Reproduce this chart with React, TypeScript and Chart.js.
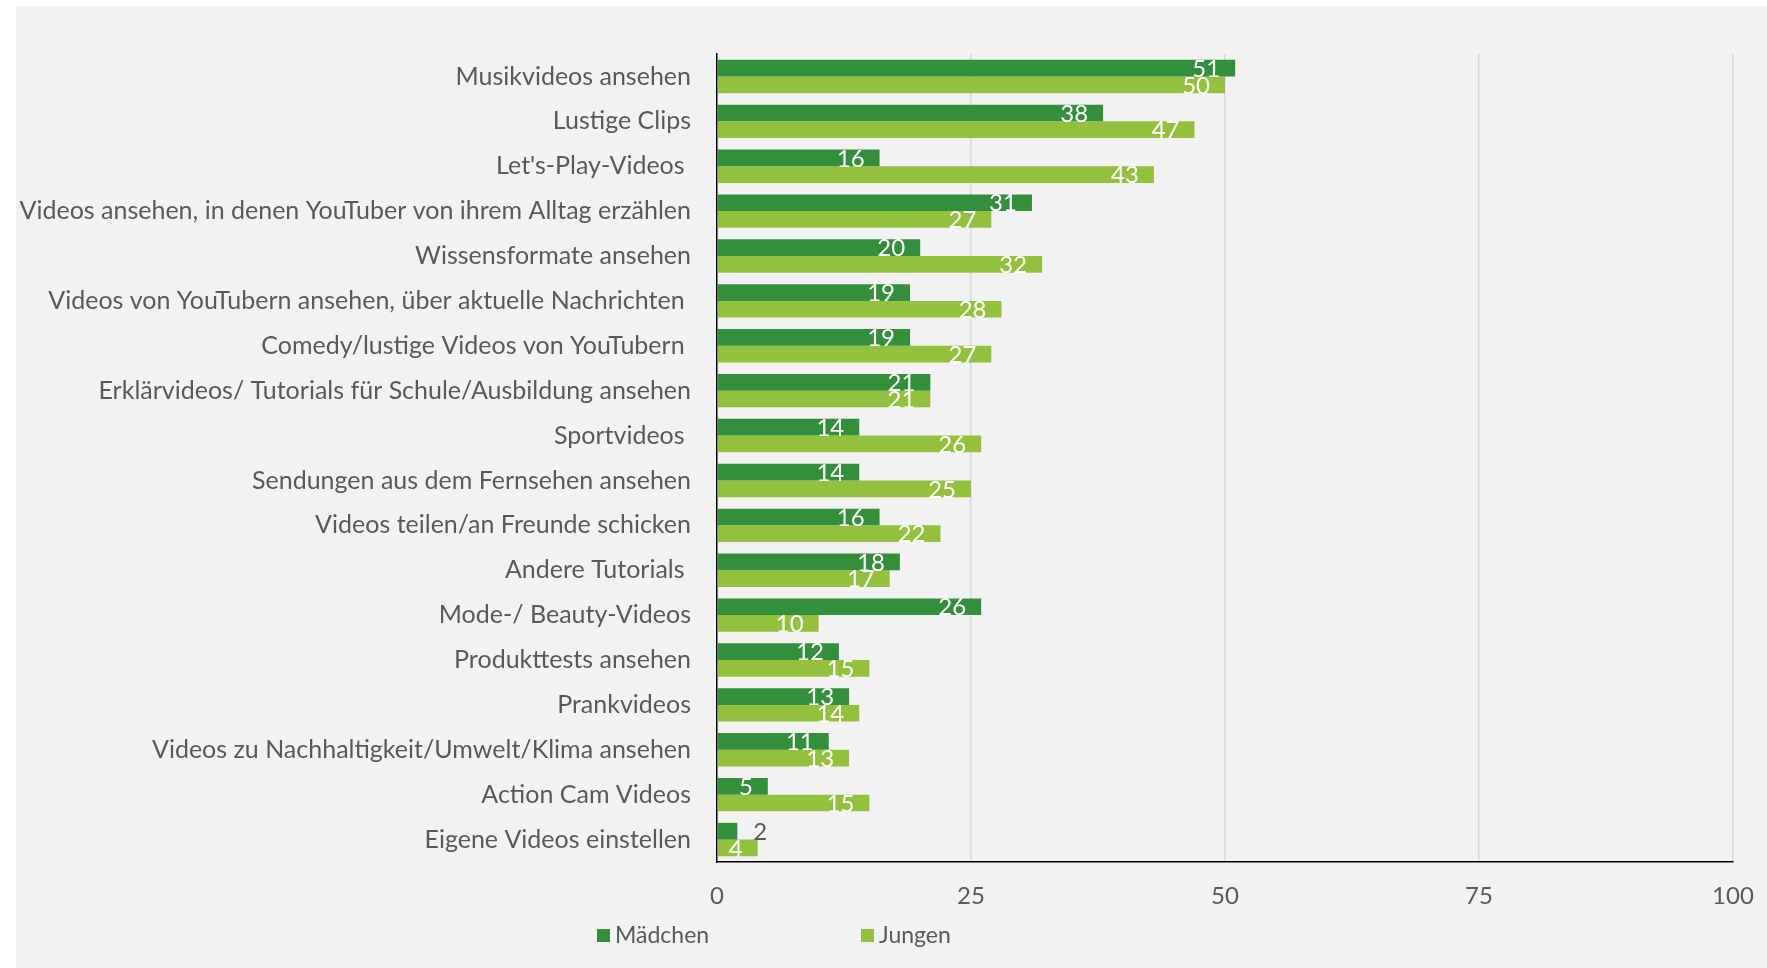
import React, { useEffect, useRef } from "react";
import { Chart, registerables } from "chart.js";

Chart.register(...registerables);

const categories = [
  "Musikvideos ansehen",
  "Lustige Clips",
  "Let's-Play-Videos ",
  "Videos ansehen, in denen YouTuber von ihrem Alltag erzählen",
  "Wissensformate ansehen",
  "Videos von YouTubern ansehen, über aktuelle Nachrichten ",
  "Comedy/lustige Videos von YouTubern ",
  "Erklärvideos/ Tutorials für Schule/Ausbildung ansehen",
  "Sportvideos ",
  "Sendungen aus dem Fernsehen ansehen",
  "Videos teilen/an Freunde schicken",
  "Andere Tutorials ",
  "Mode-/ Beauty-Videos",
  "Produkttests ansehen",
  "Prankvideos",
  "Videos zu Nachhaltigkeit/Umwelt/Klima ansehen",
  "Action Cam Videos",
  "Eigene Videos einstellen",
];

const maedchen = [51, 38, 16, 31, 20, 19, 19, 21, 14, 14, 16, 18, 26, 12, 13, 11, 5, 2];
const jungen = [50, 47, 43, 27, 32, 28, 27, 21, 26, 25, 22, 17, 10, 15, 14, 13, 15, 4];

const seriesNames = ["Mädchen", "Jungen"];
const xTickValues = [0, 25, 50, 75, 100];

const DARK = "#348f3d";
const LIGHT = "#93c13e";
const TEXT = "#595959";
const FONT_FAMILY = "Lato";

const labelPlugin = {
  id: "valueLabels",
  afterDatasetsDraw(chart: any) {
    const ctx = chart.ctx;
    ctx.save();
    ctx.font = `24px ${FONT_FAMILY}`;
    ctx.textBaseline = "middle";
    chart.data.datasets.forEach((ds: any, di: number) => {
      const meta = chart.getDatasetMeta(di);
      meta.data.forEach((bar: any, i: number) => {
        const v = ds.data[i];
        const p = bar.getProps(["x", "y", "base"], true);
        const txt = String(v);
        const w = ctx.measureText(txt).width;
        if (p.x - p.base > w + 20) {
          ctx.fillStyle = "#ffffff";
          ctx.textAlign = "right";
          ctx.fillText(txt, p.x - 15, p.y + 1);
        } else {
          ctx.fillStyle = TEXT;
          ctx.textAlign = "left";
          ctx.fillText(txt, p.x + 16, p.y + 1);
        }
      });
    });
    ctx.restore();
  },
};

const legendPlugin = {
  id: "customLegend",
  afterDraw(chart: any) {
    const ctx = chart.ctx;
    ctx.save();
    ctx.font = `23px ${FONT_FAMILY}`;
    ctx.textBaseline = "middle";
    ctx.textAlign = "left";
    const cy = 930;
    const starts = [581, 845];
    chart.data.datasets.forEach((ds: any, di: number) => {
      const x0 = starts[di];
      ctx.fillStyle = ds.backgroundColor;
      ctx.fillRect(x0, cy - 7, 13, 13);
      ctx.fillStyle = TEXT;
      ctx.fillText(ds.label, x0 + 18, cy);
    });
    ctx.restore();
  },
};

export default function App() {
  const ref = useRef<HTMLCanvasElement>(null);
  useEffect(() => {
    document.body.style.margin = "0";
    const chart = new Chart(ref.current as HTMLCanvasElement, {
      type: "bar",
      data: {
        labels: categories,
        datasets: [
          { label: seriesNames[0], data: maedchen, backgroundColor: DARK, borderWidth: 0 },
          { label: seriesNames[1], data: jungen, backgroundColor: LIGHT, borderWidth: 0 },
        ],
      },
      options: {
        indexAxis: "y",
        animation: false,
        responsive: true,
        maintainAspectRatio: false,
        categoryPercentage: 0.744,
        barPercentage: 1,
        layout: { padding: { top: 48, right: 34, bottom: 0, left: 0 } },
        plugins: {
          legend: { display: false },
          tooltip: { enabled: false },
          title: { display: false },
        },
        scales: {
          x: {
            min: 0,
            max: 100,
            afterBuildTicks: (scale: any) => {
              scale.ticks = xTickValues.map((v) => ({ value: v }));
            },
            afterFit: (scale: any) => {
              scale.height = 106;
              scale.paddingRight = 0;
              scale.paddingLeft = 0;
            },
            ticks: {
              color: TEXT,
              font: { family: FONT_FAMILY, size: 24 },
              padding: 20,
            },
            grid: {
              color: (c: any) => (c.tick && c.tick.value === 0 ? "rgba(0,0,0,0)" : "#d9d9d9"),
              lineWidth: 1.5,
              drawTicks: false,
            },
            border: { display: true, color: "#000000", width: 1.5 },
          },
          y: {
            afterFit: (scale: any) => {
              scale.width = 701;
              scale.paddingTop = 0;
              scale.paddingBottom = 0;
            },
            ticks: {
              color: TEXT,
              font: { family: FONT_FAMILY, size: 25 },
              padding: 26,
              autoSkip: false,
            },
            grid: { display: false, drawTicks: false },
            border: { display: true, color: "#000000", width: 1.5 },
          },
        },
      },
      plugins: [labelPlugin, legendPlugin],
    } as any);
    return () => chart.destroy();
  }, []);
  return (
    <div
      style={{
        position: "absolute",
        left: 16,
        top: 6,
        width: 1751,
        height: 962,
        background: "#f2f2f2",
      }}
    >
      <canvas ref={ref} />
    </div>
  );
}
